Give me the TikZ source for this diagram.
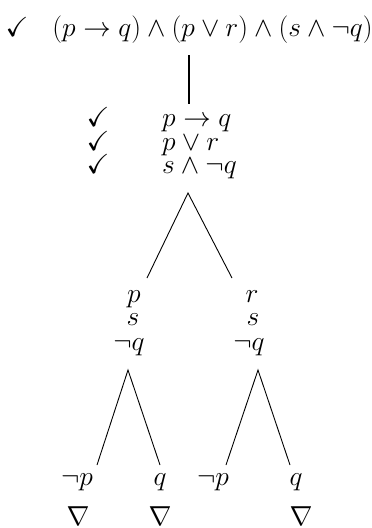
\documentclass[tikz,border=0pt]{standalone}
\usepackage{graphicx}
\usepackage{amsmath,amssymb}
\newcommand\mtx[1]{\scalebox{1.105}{$#1$}}
\begin{document}
\begin{tikzpicture}[x=1pt,y=-1pt,
  lbl/.style={anchor=base,inner sep=0pt,font=\fontsize{24.88}{30}\selectfont},
  lblw/.style={anchor=base west,inner sep=0pt,font=\fontsize{24.88}{30}\selectfont},
  br/.style={line width=0.9pt},
  trunk/.style={line width=2.4pt}]
\useasboundingbox (0,0) rectangle (372,528);
% top
\node[lbl] (c0) at (17,36) {\mtx{\checkmark}};
\node[lbl] (top) at (212.5,36) {\mtx{(p\rightarrow q)\wedge(p\vee r)\wedge(s\wedge\neg q)}};
\coordinate (t1) at (189,55);
\coordinate (t2) at (189,104);
\draw[trunk] (t1) -- (t2);
% second block
\node[lbl] (c1) at (98,126) {\mtx{\checkmark}};
\node[lbl] (c2) at (98,150) {\mtx{\checkmark}};
\node[lbl] (c3) at (98,173) {\mtx{\checkmark}};
\node[lblw] (f1) at (162,126) {\mtx{p\rightarrow q}};
\node[lblw] (f2) at (162,150) {\mtx{p\vee r}};
\node[lblw] (f3) at (162,173) {\mtx{s\wedge\neg q}};
% first split
\coordinate (a1) at (188,193);
\coordinate (a1l) at (147,278);
\coordinate (a1r) at (232,278);
\draw[br] (a1l) -- (a1) -- (a1r);
% columns
\node[lbl] (lp) at (134,302) {\mtx{p}};
\node[lbl] (ls) at (133,325) {\mtx{s}};
\node[lbl] (lq) at (129,350) {\mtx{\neg q}};
\node[lbl] (rr) at (252,302) {\mtx{r}};
\node[lbl] (rs) at (253,325) {\mtx{s}};
\node[lbl] (rq) at (249,350) {\mtx{\neg q}};
% second splits
\coordinate (a2) at (128,370);
\coordinate (a2l) at (97,465);
\coordinate (a2r) at (160,465);
\draw[br] (a2l) -- (a2) -- (a2r);
\coordinate (a3) at (258,370);
\coordinate (a3l) at (226,465);
\coordinate (a3r) at (290,465);
\draw[br] (a3l) -- (a3) -- (a3r);
% leaves
\node[lbl] (l1) at (77,485) {\mtx{\neg p}};
\node[lbl] (l2) at (160,485) {\mtx{q}};
\node[lbl] (l3) at (213,485) {\mtx{\neg p}};
\node[lbl] (l4) at (296,485) {\mtx{q}};
\node[lbl] (n1) at (78,525) {\mtx{\nabla}};
\node[lbl] (n2) at (160,525) {\mtx{\nabla}};
\node[lbl] (n4) at (301,525) {\mtx{\nabla}};
\end{tikzpicture}
\end{document}
